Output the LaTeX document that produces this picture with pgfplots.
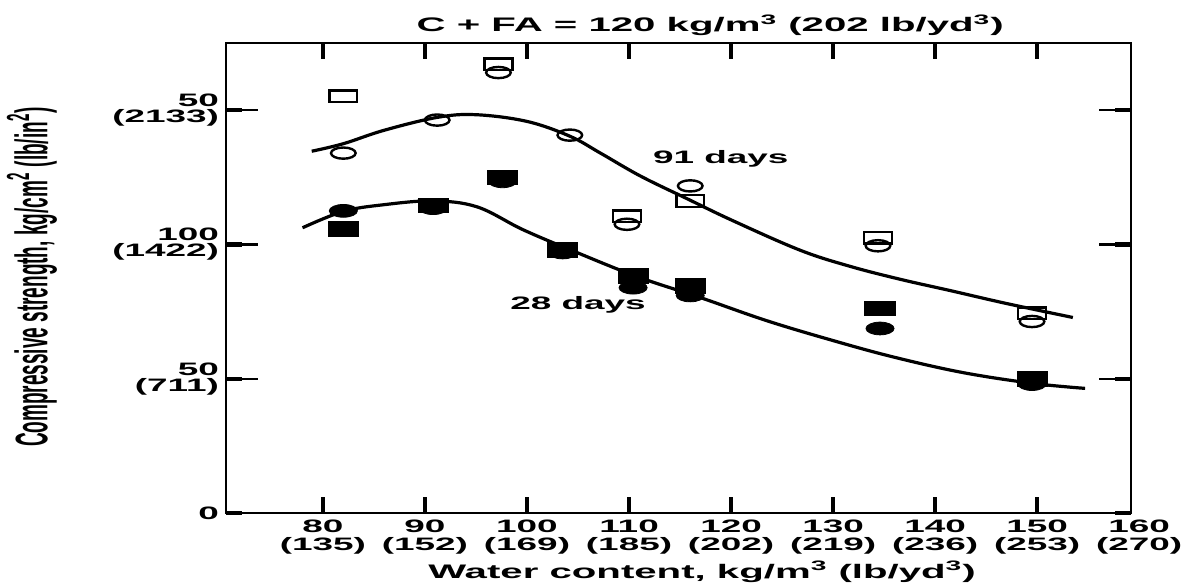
\documentclass[border=0pt]{standalone}
\usepackage{fontspec}
\setmainfont{Liberation Sans}[FakeStretch=2.05]
\newfontfamily\ylabfont{Liberation Sans}
\usepackage{pgfplots}
\pgfplotsset{compat=1.18}

\pgfplotstableread{
x y
82.0 155.2
97.2 167.0
109.8 110.5
116.0 116.2
134.4 102.5
149.5 74.3
}\opensq
\pgfplotstableread{
x y
82.0 134.0
91.2 146.3
97.2 164.0
104.2 140.7
109.8 107.5
116.0 121.8
134.4 99.5
149.5 71.3
}\opencirc
\pgfplotstableread{
x y
82.0 105.8
90.8 114.5
97.6 125.0
103.5 98.0
110.4 88.3
116.0 84.5
134.6 76.1
149.5 50.0
}\fillsq
\pgfplotstableread{
x y
82.0 112.5
90.8 113.5
97.6 123.5
103.5 97.0
110.4 83.9
116.0 81.0
134.6 68.7
149.5 48.0
}\fillcirc
\pgfplotstableread{
x y
78.9 134.7
82.0 137.5
86.0 142.5
91.2 147.3
95.0 148.3
100.0 145.8
104.2 140.3
107.2 134.0
111.1 125.5
115.7 117.0
120.2 108.8
126.8 97.8
131.7 91.8
136.6 87.0
141.5 82.8
147.0 78.0
153.5 72.8
}\curveA
\pgfplotstableread{
x y
78.0 106.2
82.0 112.3
86.0 114.8
90.8 116.2
95.1 114.0
99.6 105.5
104.5 97.6
110.8 88.0
117.0 80.2
123.5 71.6
130.0 64.2
136.0 58.0
142.7 52.3
149.5 48.3
154.7 46.4
}\curveB

\begin{document}
\begin{tikzpicture}
\pgfplotsset{
  frame/.style={scale only axis, width=452.5pt, height=235pt,
    xmin=70.5, xmax=159.2, ymin=0, ymax=175, clip=false}
}
\begin{axis}[
  frame,
  axis line style={line width=1.4pt},
  xtick={80,90,...,150},
  xticklabels={{80\\(135)},{90\\(152)},{100\\(169)},{110\\(185)},{120\\(202)},{130\\(219)},{140\\(236)},{150\\(253)}},
  ytick={0,50,100,150},
  yticklabels={0,{50\\(711)},{100\\(1422)},{50\\(2133)}},
  tick align=inside,
  major tick length=8pt,
  every tick/.style={line width=2.2pt, black},
  x tick label style={align=center, font=\bfseries\fontsize{9}{9}\selectfont},
  y tick label style={align=right, font=\bfseries\fontsize{9}{8}\selectfont},
]
\addplot[black, line width=1.6pt, smooth, tension=0.6] table {\curveA};
\addplot[black, line width=1.6pt, smooth, tension=0.6] table {\curveB};
\addplot[only marks, mark=square, mark size=2.9pt, mark options={xscale=2.4, line width=1.2pt, black, fill=white}] table {\opensq};
\addplot[only marks, mark=o, mark size=2.8pt, mark options={xscale=2.2, line width=1.2pt, black, fill=white}] table {\opencirc};
\addplot[only marks, mark=square*, mark size=3.6pt, mark options={xscale=2.1, black}] table {\fillsq};
\addplot[only marks, mark=*, mark size=3.2pt, mark options={xscale=2.2, black}] table {\fillcirc};
\node[font=\bfseries\fontsize{9}{9}\selectfont] at (axis cs:119.0,131.8) {91 days};
\node[font=\bfseries\fontsize{9}{9}\selectfont] at (axis cs:105.0,77.6) {28 days};
\node[anchor=north, font=\bfseries\fontsize{9}{9}\selectfont, align=center, inner sep=3.33pt] at (axis cs:160,0) {160\\(270)};
\node[anchor=base, font=\bfseries\fontsize{9.8}{9.8}\selectfont] at ([yshift=5.5pt]axis description cs:0.535,1) {C + FA = 120 kg/m\textsuperscript{3} (202 lb/yd\textsuperscript{3})};
\node[anchor=base, font=\bfseries\fontsize{9.8}{9.8}\selectfont] at ([yshift=-32.5pt]axis description cs:0.526,0) {Water content, kg/m\textsuperscript{3} (lb/yd\textsuperscript{3})};
\node[rotate=90, font=\fontsize{9.5}{9.5}\selectfont] at ([xshift=-97pt]axis description cs:0,0.502) {\scalebox{1}[2.4]{\ylabfont\bfseries Compressive strength, kg/cm\textsuperscript{2} (lb/in\textsuperscript{2})}};
\end{axis}
\begin{axis}[
  frame,
  axis line style={draw=none},
  xtick=\empty,
  ytick={50,100,150},
  yticklabels={},
  tick align=inside,
  major tick length=16pt,
  every tick/.style={line width=1.2pt, black},
]
\end{axis}
\pgfresetboundingbox
\path ([shift={(-113pt,-35pt)}]current axis.south west) rectangle ([shift={(25.5pt,21.5pt)}]current axis.north east);
\end{tikzpicture}
\end{document}
